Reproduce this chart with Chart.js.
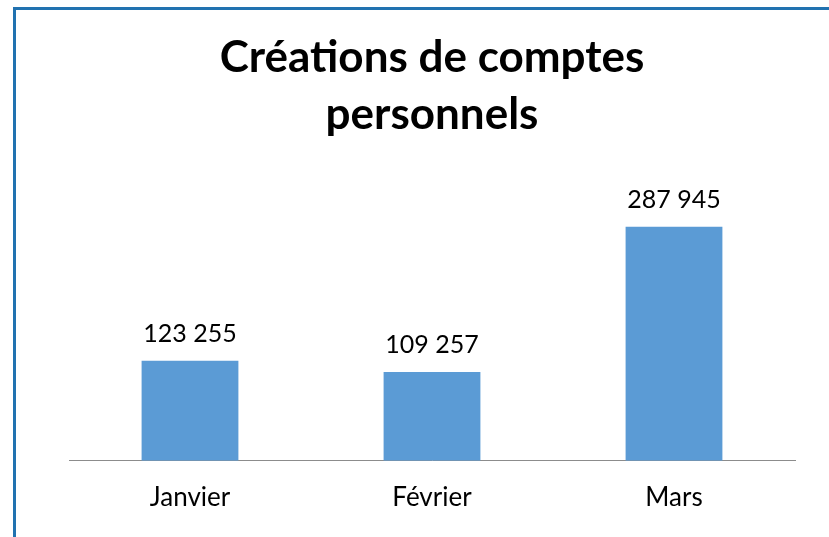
<!DOCTYPE html>
<html>
<head>
<meta charset="utf-8">
<script src="https://cdn.jsdelivr.net/npm/chart.js@4"></script>
<style>
  html, body { margin: 0; padding: 0; background: #fff; overflow: hidden; }
  #frame { position: absolute; left: 13px; top: 7px; width: 900px; height: 600px;
           border-left: 3px solid #2172b0; border-top: 3px solid #2172b0; }
  #wrap { position: absolute; left: 0; top: 0; width: 829px; height: 537px; }
</style>
</head>
<body>
<div id="frame"></div>
<div id="wrap"><canvas id="myBarChart"></canvas></div>
<script>
const months = ['Janvier', 'Février', 'Mars'];
const accounts = [123255, 109257, 287945];
const titleLines = ['Créations de comptes', 'personnels'];

const fontFamily = 'Lato, "Open Sans", sans-serif';

function formatNumber(v) {
    return String(v).replace(/\B(?=(\d{3})+(?!\d))/g, ' ');
}

const valueLabels = {
    id: 'valueLabels',
    afterDatasetsDraw(chart) {
        const ctx = chart.ctx;
        const meta = chart.getDatasetMeta(0);
        ctx.save();
        ctx.font = '25px ' + fontFamily;
        ctx.fillStyle = '#000';
        ctx.textAlign = 'center';
        ctx.textBaseline = 'middle';
        meta.data.forEach((bar, i) => {
            ctx.fillText(formatNumber(chart.data.datasets[0].data[i]), bar.x, bar.y - 27);
        });
        ctx.restore();
    }
};

let myBarChart = new Chart(document.getElementById('myBarChart').getContext('2d'), {
    type: 'bar',
    data: {
        labels: months,
        datasets: [{
            label: 'Créations de comptes personnels',
            data: accounts,
            backgroundColor: '#5b9bd5',
            categoryPercentage: 1,
            barPercentage: 0.4,
        }]
    },
    options: {
        responsive: true,
        maintainAspectRatio: false,
        animation: false,
        layout: {
            padding: { left: 69, right: 34, top: 0, bottom: 11 }
        },
        scales: {
            x: {
                grid: { display: false },
                border: { display: true, color: '#8c8c8c', width: 1 },
                ticks: {
                    color: '#000',
                    padding: 13,
                    font: { family: fontFamily, size: 26 }
                }
            },
            y: {
                display: false,
                min: 0,
                max: 350000
            }
        },
        plugins: {
            legend: { display: false },
            tooltip: { enabled: false },
            title: {
                display: true,
                text: titleLines,
                color: '#000',
                font: { family: fontFamily, size: 44, weight: 'bold', lineHeight: 1.3 },
                padding: { top: 29, bottom: 33 }
            }
        }
    },
    plugins: [valueLabels]
});
</script>
</body>
</html>
